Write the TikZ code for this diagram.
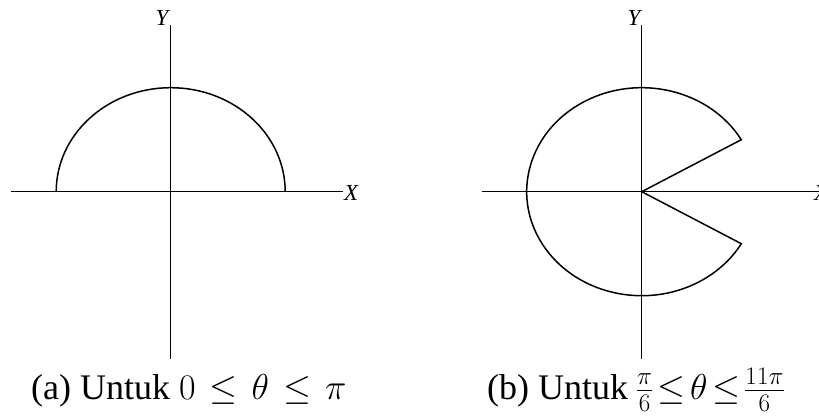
\RequirePackage{fix-cm}
\documentclass[tikz,border=0pt]{standalone}
\usepackage{fontspec}
\setmainfont{Liberation Serif}
\usetikzlibrary{calc}
\begin{document}
\begin{tikzpicture}[x=1pt,y=-1pt,
  axis/.style={line width=1.4pt},
  curve/.style={line width=1.5pt},
  axlabel/.style={inner sep=0pt,font=\fontsize{23pt}{26pt}\selectfont\itshape},
  capstyle/.style={inner sep=0pt,anchor=base west,font=\fontsize{36pt}{40pt}\selectfont}]
\useasboundingbox (0,0) rectangle (819,417);
% ---- (a)
\coordinate (aO) at (170.7,191.7);
\coordinate (aT) at (170.7,25);
\coordinate (aB) at (170.7,359);
\coordinate (aL) at (11,191.7);
\coordinate (aR) at (343,191.7);
\draw[axis] (aT) -- (aB);
\draw[axis] (aL) -- (aR);
\coordinate (aS) at (285.2,191.7);
\draw[curve] (aS) arc[start angle=0,end angle=-180,x radius=114.5,y radius=104];
\node[axlabel] (aY) at (162,18) {Y};
\node[axlabel,anchor=west] (aX) at (344,193) {X};
\node[capstyle] (capa) at (31,399) {(a) Untuk $\thickmuskip=7mu 0\le\theta\le\pi$};
% ---- (b)
\coordinate (bO) at (641.7,191.7);
\coordinate (bT) at (641.7,25);
\coordinate (bB) at (641.7,359);
\coordinate (bL) at (481.7,191.7);
\coordinate (bR) at (819,191.7);
\draw[axis] (bT) -- (bB);
\draw[axis] (bL) -- (bR);
\coordinate (bU) at ($(bO)+(-30:115 and 104)$);
\draw[curve] (bO) -- (bU) arc[start angle=-30,end angle=-330,x radius=115,y radius=104] -- (bO);
\node[axlabel] (bY) at (634,18) {Y};
\node[axlabel,anchor=west] (bX) at (814,193) {X};
\node[capstyle] (capb) at (487,399) {(b) Untuk $\thickmuskip=2.5mu\nulldelimiterspace=0pt \frac{\pi}{6}\le\theta\le\frac{11\pi}{6}$};
\end{tikzpicture}
\end{document}
